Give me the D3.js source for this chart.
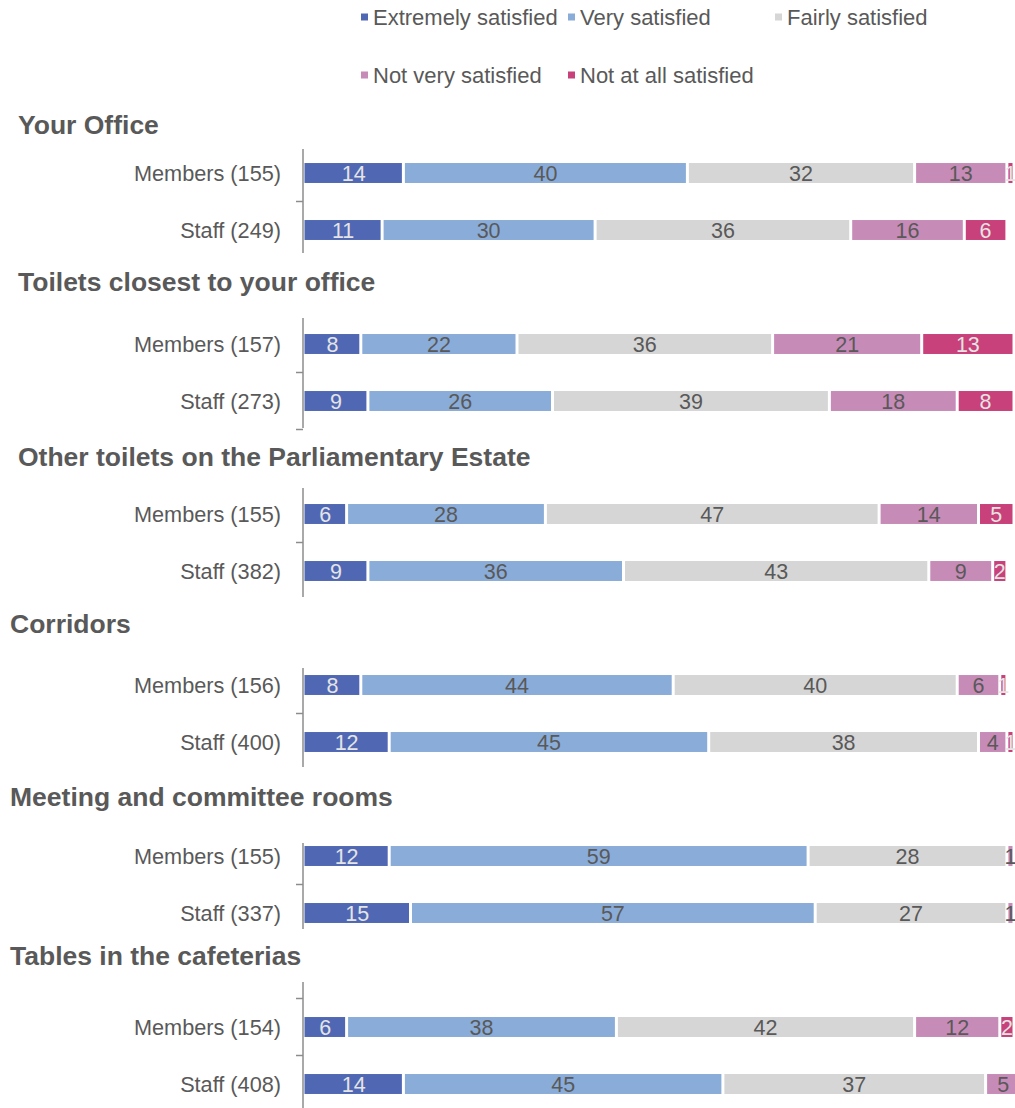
<!DOCTYPE html>
<html>
<head>
<meta charset="utf-8">
<script src="https://cdn.jsdelivr.net/npm/d3@7"></script>
<style>
  html, body { margin: 0; padding: 0; background: #fff; }
  svg { display: block; font-family: "Liberation Sans", Arial, sans-serif; }
</style>
</head>
<body>
<svg id="chart" width="1015" height="1108"></svg>
<script>
// Satisfaction ratings (%) by area, Members and Staff
const sections = [
  "Your Office",
  "Toilets closest to your office",
  "Other toilets on the Parliamentary Estate",
  "Corridors",
  "Meeting and committee rooms",
  "Tables in the cafeterias"
];
const respondents = [
  "Members (155)", "Staff (249)",
  "Members (157)", "Staff (273)",
  "Members (155)", "Staff (382)",
  "Members (156)", "Staff (400)",
  "Members (155)", "Staff (337)",
  "Members (154)", "Staff (408)"
];
const ratingNames = ["Extremely satisfied", "Very satisfied", "Fairly satisfied", "Not very satisfied", "Not at all satisfied"];
const extremely = [14, 11, 8, 9, 6, 9, 8, 12, 12, 15, 6, 14];
const very      = [40, 30, 22, 26, 28, 36, 44, 45, 59, 57, 38, 45];
const fairly    = [32, 36, 36, 39, 47, 43, 40, 38, 28, 27, 42, 37];
const notVery   = [13, 16, 21, 18, 14, 9, 6, 4, 1, 1, 12, 5];
const notAtAll  = [1, 6, 13, 8, 5, 2, 1, 1, 0, 0, 2, 0];

const seriesValues = [extremely, very, fairly, notVery, notAtAll];
const colors = ["#5068B4", "#8AACD8", "#D6D6D6", "#C78BB8", "#C8417A"];
const labelColors = ["#E4E4E4", "#595959", "#595959", "#595959", "#E4E4E4"];
const textColor = "#595959";

// Placement of each panel
const panelLayout = [
  { bandTop: 144.5, titleY: 125, titleX: 18, axis: [149, 253], ticks: [1] },
  { bandTop: 315.5, titleY: 282, titleX: 18, axis: [318, 428], ticks: [1, 2] },
  { bandTop: 485.5, titleY: 457, titleX: 18, axis: [488, 597], ticks: [1] },
  { bandTop: 656.5, titleY: 624, titleX: 10, axis: [668, 767], ticks: [1] },
  { bandTop: 827.5, titleY: 797, titleX: 10, axis: [843, 929], ticks: [1] },
  { bandTop: 998.5, titleY: 956, titleX: 10, axis: [982, 1110], ticks: [0, 1] }
];
const step = 57;

const svg = d3.select("#chart");
const x = d3.scaleLinear().domain([0, 100]).range([304, 1014]);

// Legend
const legendItems = [
  { x: 373, y: 17 }, { x: 580, y: 17 }, { x: 787, y: 17 },
  { x: 373, y: 75 }, { x: 580, y: 75 }
];
const legend = svg.append("g");
ratingNames.forEach((name, i) => {
  const p = legendItems[i];
  legend.append("rect")
    .attr("x", p.x - 12).attr("y", p.y - 3.5)
    .attr("width", 7).attr("height", 7)
    .attr("fill", colors[i]);
  legend.append("text")
    .attr("x", p.x).attr("y", p.y)
    .attr("dy", "0.35em")
    .attr("font-size", 22)
    .attr("fill", textColor)
    .text(name);
});

sections.forEach((title, s) => {
  const L = panelLayout[s];
  const rows = [2 * s, 2 * s + 1];
  const g = svg.append("g");

  const y = d3.scaleBand()
    .domain(rows)
    .range([L.bandTop, L.bandTop + 2 * step])
    .paddingInner(0.65)
    .paddingOuter(0.325);

  g.append("text")
    .attr("x", L.titleX).attr("y", L.titleY)
    .attr("dy", "0.35em")
    .attr("font-size", 26.5)
    .attr("font-weight", "bold")
    .attr("fill", textColor)
    .text(title);

  // Vertical category axis
  g.append("line")
    .attr("x1", x(0) - 1).attr("x2", x(0) - 1)
    .attr("y1", L.axis[0]).attr("y2", L.axis[1])
    .attr("stroke", "#8C8C8C").attr("stroke-width", 1.5);
  L.ticks.forEach(k => {
    const ty = L.bandTop + k * step;
    g.append("line")
      .attr("x1", x(0) - 8).attr("x2", x(0) - 1)
      .attr("y1", ty).attr("y2", ty)
      .attr("stroke", "#8C8C8C").attr("stroke-width", 1.5);
  });

  rows.forEach(r => {
    const cy = y(r) + y.bandwidth() / 2;
    g.append("text")
      .attr("x", 281).attr("y", cy)
      .attr("dy", "0.35em")
      .attr("text-anchor", "end")
      .attr("font-size", 21.7)
      .attr("fill", textColor)
      .text(respondents[r]);

    let cum = 0;
    seriesValues.forEach((vals, i) => {
      const v = vals[r];
      const start = cum;
      cum += v;
      if (v <= 0) return;
      const x0 = x(start) + (i === 0 ? 0.5 : 1.5);
      const x1 = x(cum) - 1.5;
      g.append("rect")
        .attr("x", x0).attr("y", y(r))
        .attr("width", Math.max(0.5, x1 - x0))
        .attr("height", y.bandwidth())
        .attr("fill", colors[i]);
      g.append("text")
        .attr("x", (x(start) + x(cum)) / 2)
        .attr("y", cy)
        .attr("dy", "0.36em")
        .attr("text-anchor", "middle")
        .attr("font-size", 21.5)
        .attr("fill", labelColors[i])
        .text(v);
    });
  });
});
</script>
</body>
</html>
